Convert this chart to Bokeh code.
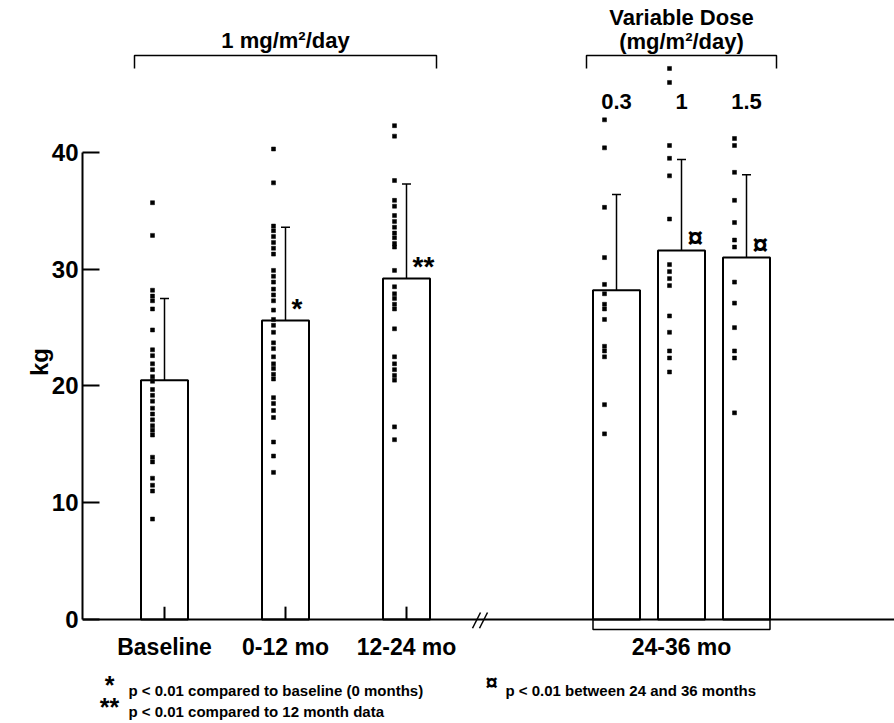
from bokeh.plotting import figure
from bokeh.models import Range1d, LinearAxis, FixedTicker, ColumnDataSource, Whisker, TeeHead
from bokeh.core.properties import value
from bokeh.embed import file_html
from bokeh.resources import INLINE

FONT = "Liberation Sans"

# ---- data -------------------------------------------------------------
groups = ["Baseline", "0-12 mo", "12-24 mo", "0.3", "1", "1.5"]
means = [20.5, 25.6, 29.2, 28.2, 31.6, 31.0]
sds = [7.0, 8.0, 8.1, 8.2, 7.8, 7.1]
marks = ["", "*", "**", "", "\u00a4", "\u00a4"]

baseline_kg = [35.7, 32.9, 28.2, 27.7, 27.3, 26.6, 24.8, 23.1, 22.6, 21.9, 21.4,
               20.8, 20.4, 19.7, 19.2, 18.7, 18.1, 17.6, 17.1, 16.6, 16.2, 15.8,
               13.9, 13.5, 12.1, 11.5, 11.0, 8.6]
m0_12_kg = [40.3, 37.4, 33.7, 33.3, 32.8, 32.3, 31.8, 31.3, 29.9, 29.4, 28.9,
            28.3, 27.8, 27.3, 26.5, 25.7, 25.2, 24.6, 23.7, 23.2, 22.5, 21.9,
            21.5, 21.0, 20.6, 19.0, 18.5, 17.9, 17.3, 15.2, 14.0, 12.6]
m12_24_kg = [42.3, 41.4, 37.6, 35.9, 35.4, 34.6, 34.1, 33.6, 33.1, 32.7, 32.2,
             31.9, 29.9, 28.5, 27.9, 27.5, 27.0, 26.6, 24.9, 22.5, 21.9, 21.4,
             20.9, 20.5, 16.5, 15.4]
dose03_kg = [42.8, 40.4, 35.3, 31.0, 28.7, 27.9, 27.0, 26.6, 25.7, 23.4, 23.0,
             22.5, 18.4, 15.9]
dose1_kg = [47.2, 46.0, 40.6, 39.5, 38.0, 34.3, 30.4, 29.8, 29.2, 28.6, 26.0,
            24.6, 23.0, 22.4, 21.2]
dose15_kg = [41.2, 40.6, 38.3, 35.9, 34.0, 32.5, 31.9, 28.9, 27.1, 25.0, 23.0,
             22.4, 17.7]
points = [baseline_kg, m0_12_kg, m12_24_kg, dose03_kg, dose1_kg, dose15_kg]

period_labels = ["Baseline", "0-12 mo", "12-24 mo", "24-36 mo"]
dose_labels = ["0.3", "1", "1.5"]
y_ticks = [0, 10, 20, 30, 40]

footnotes = ["p < 0.01 compared to baseline (0 months)",
             "p < 0.01 compared to 12 month data",
             "p < 0.01 between 24 and 36 months"]

# ---- layout (horizontal units) -----------------------------------------
bar_x = [82, 203, 324, 534, 599, 664]
period_x = [82, 203, 324, 599]
bar_w = 47
dot_dx = -12
mark_dx = 6

p = figure(width=894, height=723,
           x_range=Range1d(0, 812), y_range=Range1d(-8.91, 53.02),
           output_backend="svg", toolbar_location=None,
           x_axis_location=None, y_axis_location=None,
           min_border_left=82, min_border_right=0,
           min_border_top=0, min_border_bottom=0)
p.grid.visible = False
p.outline_line_color = None
p.background_fill_color = "white"
p.border_fill_color = "white"

# y axis
yaxis = LinearAxis(ticker=FixedTicker(ticks=y_ticks), bounds=(0, 40),
                   axis_label="kg")
yaxis.axis_line_width = 2
yaxis.axis_line_color = "black"
yaxis.major_tick_line_width = 2
yaxis.major_tick_line_color = "black"
yaxis.major_tick_in = 17
yaxis.major_tick_out = 0
yaxis.minor_tick_line_color = None
yaxis.major_label_standoff = 4
yaxis.major_label_text_font = FONT
yaxis.major_label_text_font_style = "bold"
yaxis.major_label_text_font_size = "24px"
yaxis.major_label_text_color = "black"
yaxis.axis_label_text_font = FONT
yaxis.axis_label_text_font_style = "bold"
yaxis.axis_label_text_font_size = "24px"
yaxis.axis_label_text_color = "black"
yaxis.axis_label_standoff = -4
p.add_layout(yaxis, "left")

# x axis sits at y = 0 inside the frame
xaxis = LinearAxis(ticker=FixedTicker(ticks=period_x), fixed_location=0,
                   major_label_overrides=dict(zip(period_x, period_labels)))
xaxis.axis_line_width = 2
xaxis.axis_line_color = "black"
xaxis.major_tick_in = 0
xaxis.major_tick_out = 0
xaxis.minor_tick_line_color = None
xaxis.major_label_standoff = 15
xaxis.major_label_text_font = FONT
xaxis.major_label_text_font_style = "bold"
xaxis.major_label_text_font_size = "23px"
xaxis.major_label_text_color = "black"
p.add_layout(xaxis, "below")

# bars
p.vbar(x=bar_x, top=means, bottom=0, width=bar_w,
       fill_color="white", line_color="black", line_width=2)

# inward ticks for the first three periods
p.segment(x0=bar_x[:3], y0=[0] * 3, x1=bar_x[:3], y1=[1.1] * 3,
          line_color="black", line_width=2)

# individual patients
dx, dy = [], []
for xc, vals in zip(bar_x, points):
    dx += [xc + dot_dx] * len(vals)
    dy += vals
p.scatter(x=dx, y=dy, marker="square", size=4, fill_color="black",
          line_color="black", line_width=0.5)

# mean +/- SD
err = ColumnDataSource(dict(x=bar_x,
                            upper=[m + s for m, s in zip(means, sds)],
                            lower=[m - s for m, s in zip(means, sds)]))
p.add_layout(Whisker(base="x", upper="upper", lower="lower", source=err,
                     dimension="height", line_width=1.5, line_color="black",
                     upper_head=TeeHead(size=9, line_width=1.5, line_color="black"),
                     lower_head=TeeHead(size=9, line_width=1.5, line_color="black")))

# significance marks
star_i = [1, 2]
cur_i = [4, 5]
p.text(x=[bar_x[i] + mark_dx for i in star_i], y=[means[i] + 1.05 for i in star_i],
       text=[marks[i] for i in star_i],
       text_font=value(FONT), text_font_style="bold", text_font_size="28px",
       text_align="left", text_baseline="alphabetic", text_color="black")
p.text(x=[bar_x[i] + mark_dx for i in cur_i], y=[means[i] + 1.1 for i in cur_i],
       text=[marks[i] for i in cur_i],
       text_font=value(FONT), text_font_style="bold", text_font_size="28px",
       text_align="left", text_baseline="alphabetic", text_color="black")

# group brackets above
pad = 30
br = [(bar_x[0] - pad, bar_x[2] + pad), (bar_x[3] - pad, bar_x[5] + pad)]
for x0, x1 in br:
    p.line(x=[x0, x0, x1, x1], y=[47.2, 48.3, 48.3, 47.2],
           line_color="black", line_width=1.5)
p.text(x=[bar_x[1]], y=[49.6], text=["1 mg/m\u00b2/day"],
       text_font=value(FONT), text_font_style="bold", text_font_size="22px",
       text_align="center", text_baseline="middle")
p.text(x=[bar_x[4], bar_x[4]], y=[51.6, 49.5],
       text=["Variable Dose", "(mg/m\u00b2/day)"],
       text_font=value(FONT), text_font_style="bold", text_font_size="22px",
       text_align="center", text_baseline="middle")
p.text(x=bar_x[3:], y=[44.4] * 3, text=dose_labels,
       text_font=value(FONT), text_font_style="bold", text_font_size="22px",
       text_align="center", text_baseline="middle")

# bracket under the variable-dose bars
bl, brr = bar_x[3] - bar_w / 2, bar_x[5] + bar_w / 2
p.line(x=[bl, bl, brr, brr], y=[0, -0.86, -0.86, 0],
       line_color="black", line_width=1.5)

# axis break
p.segment(x0=[390, 397], y0=[-0.75, -0.75], x1=[398, 405], y1=[0.6, 0.6],
          line_color="black", line_width=1.5)

# footnotes
p.text(x=[27, 27], y=[-5.65, -7.5], text=["*", "**"],
       text_font=value(FONT), text_font_style="bold",
       text_font_size="25px", text_align="center", text_baseline="alphabetic")
p.text(x=[409], y=[-5.4], text=["\u00a4"],
       text_font=value(FONT), text_font_style="bold",
       text_font_size="22px", text_align="center", text_baseline="alphabetic")
p.text(x=[46, 46, 423], y=[-6.08, -7.88, -6.08], text=footnotes,
       text_font=value(FONT), text_font_style="bold", text_font_size="15px",
       text_align="left", text_baseline="middle")

open("out.html", "w").write(file_html(p, INLINE))
